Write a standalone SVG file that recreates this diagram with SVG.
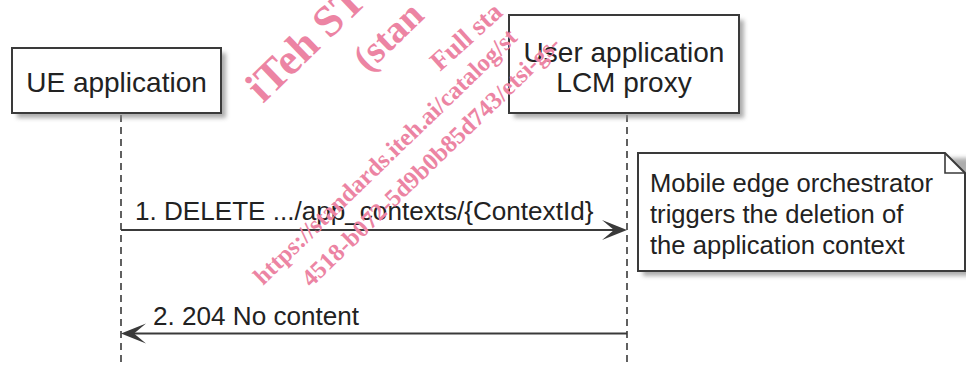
<svg xmlns="http://www.w3.org/2000/svg" width="966" height="367" viewBox="0 0 966 367">
<defs>
<filter id="blur" x="-10%" y="-10%" width="130%" height="140%"><feGaussianBlur stdDeviation="2.2"/></filter>
<style>
.box{fill:#fff;stroke:#3a3a3a;stroke-width:2}
.shadow{fill:#8a8a8a;opacity:.7;filter:url(#blur)}
.life{stroke:#3a3a3a;stroke-width:1.6;stroke-dasharray:7,5;fill:none}
.msg{stroke:#3a3a3a;stroke-width:2;fill:none}
.head{fill:#3a3a3a}
.pt{font-family:"Liberation Sans",Arial,sans-serif;font-size:28px;fill:#222;text-anchor:middle}
.mt{font-family:"Liberation Sans",Arial,sans-serif;font-size:25.6px;fill:#222}
.msgt{font-family:"Liberation Sans",Arial,sans-serif;font-size:26.1px;fill:#222}
.wm{font-family:"Liberation Serif","Times New Roman",serif;font-weight:bold;fill:#ec84a3}
</style>
</defs>
<rect width="966" height="367" fill="#fff"/>

<g id="lifelines">
<line class="life" x1="121" y1="115" x2="121" y2="367"/>
<line class="life" x1="627" y1="115" x2="627" y2="367"/>
</g>

<g id="ue-application">
<rect class="shadow" x="17" y="53" width="209" height="65"/>
<rect class="box" x="12" y="48" width="209" height="65"/>
<text class="pt" x="116.5" y="92">UE application</text>
</g>

<g id="user-app-lcm-proxy">
<rect class="shadow" x="514" y="20" width="230" height="98"/>
<rect class="box" x="509" y="15" width="230" height="98"/>
<text class="pt" x="624" y="62">User application</text>
<text class="pt" x="624" y="92">LCM proxy</text>
</g>

<g id="note">
<path class="shadow" d="M643 158 H970 V276 H643 Z"/>
<path class="box" d="M638 153 H945 L965 173 V271 H638 Z"/>
<path d="M945 153 V173 H965" fill="none" stroke="#3a3a3a" stroke-width="1.6"/>
<text class="mt" x="650" y="191.5">Mobile edge orchestrator</text>
<text class="mt" x="650" y="222.5">triggers the deletion of</text>
<text class="mt" x="650" y="254">the application context</text>
</g>

<g id="connectors">
<line class="msg" x1="121" y1="230" x2="622" y2="230"/>
<polygon class="head" points="627,230 602,220 614,230 602,240"/>
<text class="msgt" x="135" y="220">1. DELETE .../app_contexts/{ContextId}</text>
<line class="msg" x1="627" y1="333.5" x2="126" y2="333.5"/>
<polygon class="head" points="121,333.5 146,323.5 134,333.5 146,343.5"/>
<text class="msgt" x="153" y="325">2. 204 No content</text>
</g>

<g id="watermark">
<text class="wm" font-size="44" transform="translate(263,104) rotate(-44)">iTeh ST</text>
<text class="wm" font-size="38" transform="translate(368,73) rotate(-44)">(stan</text>
<text class="wm" font-size="27" transform="translate(440,72) rotate(-42)">Full sta</text>
<text class="wm" font-size="24.5" transform="translate(263,286) rotate(-44)">https://standards.iteh.ai/catalog/st</text>
<text class="wm" font-size="24.5" transform="translate(311,288) rotate(-44)">4518-b072-5d9b0b85d743/etsi-gs-</text>
</g>
</svg>
